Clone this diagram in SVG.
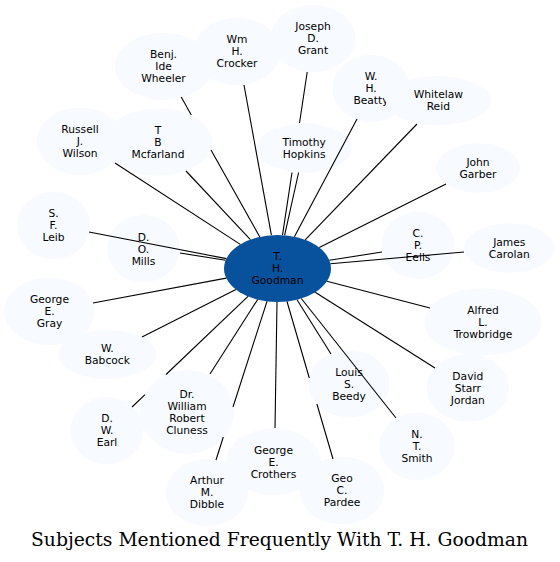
<svg xmlns="http://www.w3.org/2000/svg" width="560" height="562" viewBox="0 0 560 562">
<style>
.n ellipse{fill:#f7fbff;stroke:none}
.c ellipse{fill:#08519c;stroke:none}
text{font-family:"DejaVu Sans","Liberation Sans",sans-serif;font-size:10.7px;fill:#000;text-anchor:middle}
.e path{fill:none;stroke:#000;stroke-width:1.1}
.title{font-family:"DejaVu Serif","Liberation Serif",serif;font-size:18px}
</style>
<rect width="560" height="562" fill="#fff"/>
<g id="nodes">
<g id="n-crocker" class="n"><ellipse cx="237" cy="51.5" rx="43.4" ry="33.7"/><text x="237" y="43.4">Wm</text><text x="237" y="55.4">H.</text><text x="237" y="67.4">Crocker</text></g>
<g id="n-wheeler" class="n"><ellipse cx="163.5" cy="66.5" rx="48.5" ry="33.7"/><text x="163.5" y="58.4">Benj.</text><text x="163.5" y="70.4">Ide</text><text x="163.5" y="82.4">Wheeler</text></g>
<g id="n-grant" class="n"><ellipse cx="313" cy="38.5" rx="42.5" ry="33.7"/><text x="313" y="30.4">Joseph</text><text x="313" y="42.4">D.</text><text x="313" y="54.4">Grant</text></g>
<g id="n-beatty" class="n"><ellipse cx="371" cy="88.5" rx="38.6" ry="33.7"/><text x="371" y="80.4">W.</text><text x="371" y="92.4">H.</text><text x="371" y="104.4">Beatty</text></g>
<g id="n-reid" class="n"><ellipse cx="438.3" cy="100.5" rx="52.4" ry="24.6"/><text x="438.3" y="98.4">Whitelaw</text><text x="438.3" y="110.4">Reid</text></g>
<g id="n-timothy" class="n"><ellipse cx="304.2" cy="148" rx="47.5" ry="24.7"/><text x="304.2" y="145.9">Timothy</text><text x="304.2" y="157.9">Hopkins</text></g>
<g id="n-garber" class="n"><ellipse cx="478" cy="168" rx="42" ry="24.7"/><text x="478" y="165.9">John</text><text x="478" y="177.9">Garber</text></g>
<g id="n-wilson" class="n"><ellipse cx="80" cy="141.2" rx="43.3" ry="33.8"/><text x="80" y="133.1">Russell</text><text x="80" y="145.1">J.</text><text x="80" y="157.1">Wilson</text></g>
<g id="n-mcfarland" class="n"><ellipse cx="158" cy="142" rx="54" ry="33.7"/><text x="158" y="133.9">T</text><text x="158" y="145.9">B</text><text x="158" y="157.9">Mcfarland</text></g>
<g id="n-leib" class="n"><ellipse cx="53.5" cy="225.5" rx="36.4" ry="33.8"/><text x="53.5" y="217.4">S.</text><text x="53.5" y="229.4">F.</text><text x="53.5" y="241.4">Leib</text></g>
<g id="n-mills" class="n"><ellipse cx="143.5" cy="248.7" rx="36.2" ry="33.7"/><text x="143.5" y="240.6">D.</text><text x="143.5" y="252.6">O.</text><text x="143.5" y="264.6">Mills</text></g>
<g id="n-gray" class="n"><ellipse cx="49.5" cy="311.2" rx="45.4" ry="33.8"/><text x="49.5" y="303.1">George</text><text x="49.5" y="315.1">E.</text><text x="49.5" y="327.1">Gray</text></g>
<g id="n-babcock" class="n"><ellipse cx="107.3" cy="354.5" rx="48.8" ry="24.6"/><text x="107.3" y="352.4">W.</text><text x="107.3" y="364.4">Babcock</text></g>
<g id="n-eells" class="n"><ellipse cx="418" cy="245.3" rx="36.5" ry="33.7"/><text x="418" y="237.2">C.</text><text x="418" y="249.2">P.</text><text x="418" y="261.2">Eells</text></g>
<g id="n-carolan" class="n"><ellipse cx="509.3" cy="248" rx="45.3" ry="24.7"/><text x="509.3" y="245.9">James</text><text x="509.3" y="257.9">Carolan</text></g>
<g id="n-trowbridge" class="n"><ellipse cx="483" cy="322" rx="58.7" ry="33.7"/><text x="483" y="313.9">Alfred</text><text x="483" y="325.9">L.</text><text x="483" y="337.9">Trowbridge</text></g>
<g id="n-jordan" class="n"><ellipse cx="467.8" cy="388" rx="41.2" ry="33.7"/><text x="467.8" y="379.9">David</text><text x="467.8" y="391.9">Starr</text><text x="467.8" y="403.9">Jordan</text></g>
<g id="n-beedy" class="n"><ellipse cx="349" cy="383.7" rx="40.7" ry="33.7"/><text x="349" y="375.6">Louis</text><text x="349" y="387.6">S.</text><text x="349" y="399.6">Beedy</text></g>
<g id="n-smith" class="n"><ellipse cx="417" cy="446.2" rx="37.7" ry="33.8"/><text x="417" y="438.1">N.</text><text x="417" y="450.1">T.</text><text x="417" y="462.1">Smith</text></g>
<g id="n-pardee" class="n"><ellipse cx="342" cy="490.5" rx="42.5" ry="33.8"/><text x="342" y="482.4">Geo</text><text x="342" y="494.4">C.</text><text x="342" y="506.4">Pardee</text></g>
<g id="n-dibble" class="n"><ellipse cx="207" cy="492.5" rx="41" ry="33.5"/><text x="207" y="484.4">Arthur</text><text x="207" y="496.4">M.</text><text x="207" y="508.4">Dibble</text></g>
<g id="n-crothers" class="n"><ellipse cx="273.5" cy="461.7" rx="47.5" ry="33.4"/><text x="273.5" y="453.6">George</text><text x="273.5" y="465.6">E.</text><text x="273.5" y="477.6">Crothers</text></g>
<g id="n-earl" class="n"><ellipse cx="107" cy="430.5" rx="36.4" ry="33.8"/><text x="107" y="422.4">D.</text><text x="107" y="434.4">W.</text><text x="107" y="446.4">Earl</text></g>
<g id="n-cluness" class="n"><ellipse cx="187" cy="412" rx="47" ry="42"/><text x="187" y="397.9">Dr.</text><text x="187" y="409.9">William</text><text x="187" y="421.9">Robert</text><text x="187" y="433.9">Cluness</text></g>
<g id="n-goodman" class="c"><ellipse cx="277.5" cy="268.5" rx="53.5" ry="33.5"/><text x="277.5" y="260.4">T.</text><text x="277.5" y="272.4">H.</text><text x="277.5" y="284.4">Goodman</text></g>
</g>
<g id="connectors" class="e">
<path d="M244,85 L271.4,235.2"/>
<path d="M181.2,97 L191.3,115 M211,150 L259.8,236.9"/>
<path d="M186,171 L250.4,239.6"/>
<path d="M115,163 L240.3,244.4"/>
<path d="M89,232 L226.4,258.6"/>
<path d="M180,253 L225.6,260.3"/>
<path d="M93,303 L226.2,278.1"/>
<path d="M142,337 L235.9,289.5"/>
<path d="M132,407 L145,394.6 M166,374.5 L248,296.4"/>
<path d="M210,374 L257.6,299.6"/>
<path d="M216,460 L223.3,437 M233,407 L267,301.3"/>
<path d="M275,428 L277,302"/>
<path d="M333,459 L316.9,404 M309.3,378 L287,301.5"/>
<path d="M331,354 L297,299.7"/>
<path d="M396,418 L301.3,298.5"/>
<path d="M435,368 L315.2,292.3"/>
<path d="M430,308 L326.9,281.3"/>
<path d="M464,252 L330.5,263.8"/>
<path d="M382,252 L329.4,260.3"/>
<path d="M446,184 L319.3,247.6"/>
<path d="M417,124 L305.2,239.8"/>
<path d="M357,119 L294.4,236.7"/>
<path d="M298.6,172.5 L284.6,235.3"/>
<path d="M307.2,72 L299.5,123 M292,172.5 L282.5,235.2"/>
</g>
<text class="title" x="279.5" y="546" textLength="497" lengthAdjust="spacingAndGlyphs">Subjects Mentioned Frequently With T. H. Goodman</text>
</svg>
